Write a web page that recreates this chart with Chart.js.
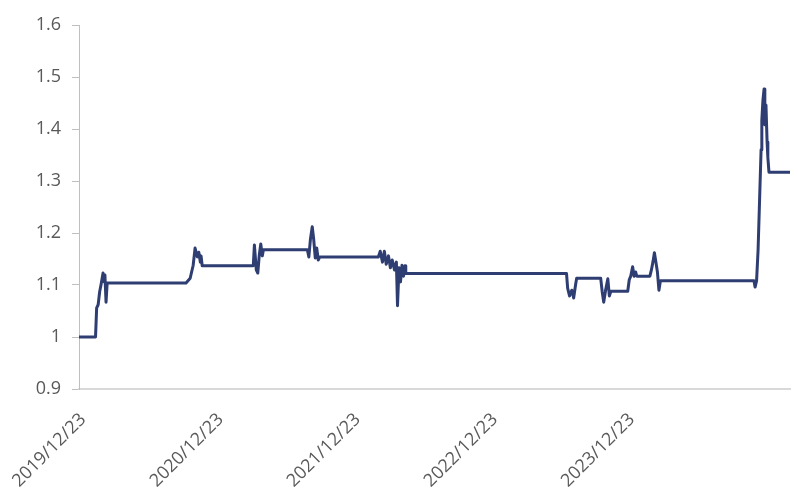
<!DOCTYPE html>
<html>
<head>
<meta charset="utf-8">
<script src="https://cdn.jsdelivr.net/npm/chart.js@4/dist/chart.umd.min.js"></script>
<style>
  html, body { margin: 0; padding: 0; background: #ffffff; }
  #wrap { width: 798px; height: 501px; }
</style>
</head>
<body>
<div id="wrap"><canvas id="c" width="798" height="501"></canvas></div>
<script>
// Days relative to 2019/12/23 for each observation (negative = before that date)
const dayIndex = [
  -11, 33, 36, 40, 44, 48, 53, 56, 58, 61, 64,
  274, 285, 293, 298, 304, 308, 312, 314, 317,
  453, 456, 461, 465, 469, 473, 477, 480,
  597, 601, 605, 610, 614, 618, 622, 626, 630,
  786, 791, 797, 802, 807, 813, 818, 823, 829, 834, 837, 841, 845, 849, 853, 857, 859,
  1287, 1290, 1295, 1301, 1306, 1311, 1314,
  1378, 1382, 1386, 1391, 1397, 1401, 1405,
  1450, 1454, 1458, 1463, 1467, 1471, 1474,
  1509, 1513, 1517, 1521, 1525, 1529, 1533, 1537,
  1786, 1789, 1793, 1797, 1801, 1805, 1807, 1810, 1813, 1815, 1818, 1821, 1823, 1826,
  1882
];
const seriesValues = [
  1.000, 1.000, 1.056, 1.062, 1.087, 1.102, 1.123, 1.106, 1.119, 1.067, 1.104,
  1.104, 1.113, 1.138, 1.171, 1.154, 1.163, 1.144, 1.156, 1.137,
  1.137, 1.177, 1.129, 1.123, 1.158, 1.179, 1.156, 1.168,
  1.168, 1.154, 1.187, 1.212, 1.187, 1.152, 1.171, 1.148, 1.154,
  1.154, 1.165, 1.144, 1.165, 1.140, 1.156, 1.133, 1.148, 1.129, 1.144, 1.060, 1.133, 1.106, 1.138, 1.117, 1.137, 1.122,
  1.122, 1.094, 1.079, 1.090, 1.075, 1.100, 1.113,
  1.113, 1.087, 1.067, 1.090, 1.112, 1.079, 1.088,
  1.088, 1.110, 1.117, 1.135, 1.117, 1.125, 1.117,
  1.117, 1.129, 1.144, 1.162, 1.144, 1.125, 1.090, 1.108,
  1.108, 1.096, 1.108, 1.167, 1.263, 1.360, 1.417, 1.456, 1.477, 1.408, 1.446, 1.375, 1.346, 1.317,
  1.317
];
const startDate = "2019/12/23";
const tickLabels = ["2019/12/23", "2020/12/23", "2021/12/23", "2022/12/23", "2023/12/23"];
const yTicks = [0.9, 1.0, 1.1, 1.2, 1.3, 1.4, 1.5, 1.6];

function dayOf(label) {
  const [y, m, d] = label.split("/").map(Number);
  const [y0, m0, d0] = startDate.split("/").map(Number);
  return Math.round((Date.UTC(y, m - 1, d) - Date.UTC(y0, m0 - 1, d0)) / 86400000);
}
const tickDays = tickLabels.map(dayOf);

const points = dayIndex.map((d, i) => ({ x: d, y: seriesValues[i] }));
const FONT = { family: "'Open Sans', 'Liberation Sans', sans-serif", size: 18 };
const TXT = '#595959';

new Chart(document.getElementById('c'), {
  type: 'line',
  data: {
    datasets: [{
      data: points,
      borderColor: '#2f3e72',
      borderWidth: 3,
      pointRadius: 0,
      tension: 0,
      fill: false,
      borderJoinStyle: 'round',
      borderCapStyle: 'round'
    }]
  },
  options: {
    responsive: false,
    animation: false,
    events: [],
    layout: { padding: { top: 25, right: 8, left: 0, bottom: 0 } },
    plugins: { legend: { display: false }, tooltip: { enabled: false } },
    scales: {
      x: {
        type: 'linear',
        min: dayIndex[0],
        max: dayIndex[dayIndex.length - 1],
        afterBuildTicks(scale) { scale.ticks = tickDays.map(v => ({ value: v })); },
        afterFit(scale) { scale.height = 112; scale.paddingLeft = 0; scale.paddingRight = 0; },
        ticks: {
          autoSkip: false,
          minRotation: 45,
          maxRotation: 45,
          padding: 20,
          color: TXT,
          font: FONT,
          callback(v) { const i = tickDays.indexOf(v); return i >= 0 ? tickLabels[i] : ''; }
        },
        grid: { display: false, drawTicks: false },
        border: { display: true, color: '#d9d9d9', width: 2 }
      },
      y: {
        min: 0.9,
        max: 1.6,
        afterBuildTicks(scale) { scale.ticks = yTicks.map(v => ({ value: v })); },
        afterFit(scale) { scale.width = 79; },
        ticks: {
          padding: 11,
          color: TXT,
          font: FONT,
          callback(v) { return String(Number(v.toFixed(1))); }
        },
        grid: { drawOnChartArea: false, drawTicks: true, tickLength: 7, color: '#bfbfbf' },
        border: { display: true, color: '#bfbfbf', width: 1 }
      }
    }
  }
});
</script>
</body>
</html>
